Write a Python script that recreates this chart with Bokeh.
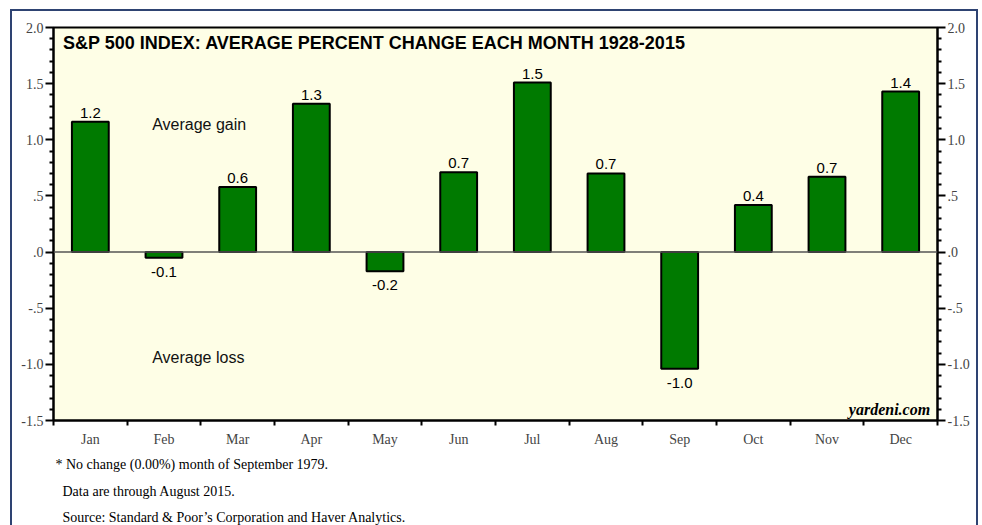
from bokeh.plotting import figure
from bokeh.models import (ColumnDataSource, Range1d, LinearAxis, FixedTicker, Span,
                          Label, LabelSet, Title)
from bokeh.core.properties import value
from bokeh.embed import file_html
from bokeh.resources import INLINE

months = ["Jan", "Feb", "Mar", "Apr", "May", "Jun", "Jul", "Aug", "Sep", "Oct", "Nov", "Dec"]
avg_change = [1.16, -0.05, 0.58, 1.32, -0.17, 0.71, 1.51, 0.70, -1.04, 0.42, 0.67, 1.43]
y_ticks = [-1.5, -1.0, -0.5, 0.0, 0.5, 1.0, 1.5, 2.0]
y_tick_labels = ["-1.5", "-1.0", "-.5", ".0", ".5", "1.0", "1.5", "2.0"]
title_text = "S&P 500 INDEX: AVERAGE PERCENT CHANGE EACH MONTH 1928-2015"
notes = ["* No change (0.00%) month of September 1979.",
         "Data are through August 2015.",
         "Source: Standard & Poor\u2019s Corporation and Haver Analytics."]

xc = [i + 0.5 for i in range(len(months))]
pos = [v >= 0 for v in avg_change]
src_pos = ColumnDataSource(dict(x=[x for x, p in zip(xc, pos) if p],
                                y=[v for v, p in zip(avg_change, pos) if p],
                                t=["%.1f" % v for v, p in zip(avg_change, pos) if p]))
src_neg = ColumnDataSource(dict(x=[x for x, p in zip(xc, pos) if not p],
                                y=[v for v, p in zip(avg_change, pos) if not p],
                                t=["%.1f" % v for v, p in zip(avg_change, pos) if not p]))
src = ColumnDataSource(dict(x=xc, top=avg_change))

p = figure(frame_width=884, frame_height=393, output_backend="svg", toolbar_location=None,
           x_range=Range1d(0, 12), y_range=Range1d(-1.5, 2.0),
           x_axis_location=None, y_axis_location=None,
           min_border_left=41, min_border_right=39, min_border_top=16, min_border_bottom=10)
p.background_fill_color = "#FEFEE6"
p.border_fill_color = "white"
p.outline_line_color = "black"
p.outline_line_width = 2
p.xgrid.visible = False
p.ygrid.visible = False
p.styles = {"border": "2px solid #2E4372"}
p.margin = (9, 0, 0, 10)

minor_y = [round(-1.5 + 0.1 * i, 2) for i in range(36)]
minor_y = [m for m in minor_y if m not in y_ticks]
overrides = {t: l for t, l in zip(y_ticks, y_tick_labels)}

for side in ["left", "right"]:
    ax = LinearAxis(ticker=FixedTicker(ticks=y_ticks, minor_ticks=minor_y),
                    major_label_overrides=overrides)
    ax.axis_line_color = "black"
    ax.axis_line_width = 2
    ax.major_tick_out = 8
    ax.major_tick_in = 0
    ax.minor_tick_out = 4
    ax.minor_tick_in = 0
    ax.major_tick_line_width = 2
    ax.minor_tick_line_width = 2
    ax.major_label_text_font = "Liberation Serif"
    ax.major_label_text_font_size = "14px"
    ax.major_label_standoff = 2
    p.add_layout(ax, side)

xax = LinearAxis(ticker=FixedTicker(ticks=xc, minor_ticks=list(range(13))),
                 major_label_overrides={x: m for x, m in zip(xc, months)})
xax.axis_line_color = "black"
xax.axis_line_width = 2
xax.major_tick_line_color = None
xax.minor_tick_out = 5
xax.minor_tick_in = 0
xax.minor_tick_line_width = 2
xax.major_label_text_font = "Liberation Serif"
xax.major_label_text_font_size = "14px"
xax.major_label_standoff = 5
p.add_layout(xax, "below")

for i, note in enumerate(notes):
    p.add_layout(Title(text=note, align="left", offset=2 if i == 0 else 9,
                       standoff=11 if i == 0 else 9,
                       text_font="Liberation Serif", text_font_style="normal",
                       text_font_size="14px", text_color="black"), "below")

p.vbar(x="x", top="top", bottom=0, width=0.5, source=src,
       fill_color="#007A00", line_color="black", line_width=2)
p.add_layout(Span(location=0, dimension="width", line_color="#555555", line_width=1.5))

p.add_layout(LabelSet(x="x", y="y", text="t", source=src_pos, text_align="center",
                      text_baseline="bottom", y_offset=4, text_font=value("Liberation Sans"),
                      text_font_size=value("15px"), text_color="black"))
p.add_layout(LabelSet(x="x", y="y", text="t", source=src_neg, text_align="center",
                      text_baseline="top", y_offset=-9, text_font=value("Liberation Sans"),
                      text_font_size=value("15px"), text_color="black"))

p.add_layout(Label(x=0.13, y=1.86, text=title_text, text_font="Liberation Sans",
                   text_font_style="bold", text_font_size="18px", text_color="black",
                   text_baseline="middle"))
p.add_layout(Label(x=1.34, y=1.14, text="Average gain", text_font="Liberation Sans",
                   text_font_size="16px", text_color="#111111", text_baseline="middle"))
p.add_layout(Label(x=1.34, y=-0.94, text="Average loss", text_font="Liberation Sans",
                   text_font_size="16px", text_color="#111111", text_baseline="middle"))
p.add_layout(Label(x=11.9, y=-1.40, text="yardeni.com", text_font="Liberation Serif",
                   text_font_style="bold italic", text_font_size="16px", text_color="black",
                   text_align="right", text_baseline="middle"))

open("out.html", "w").write(file_html(p, INLINE))
